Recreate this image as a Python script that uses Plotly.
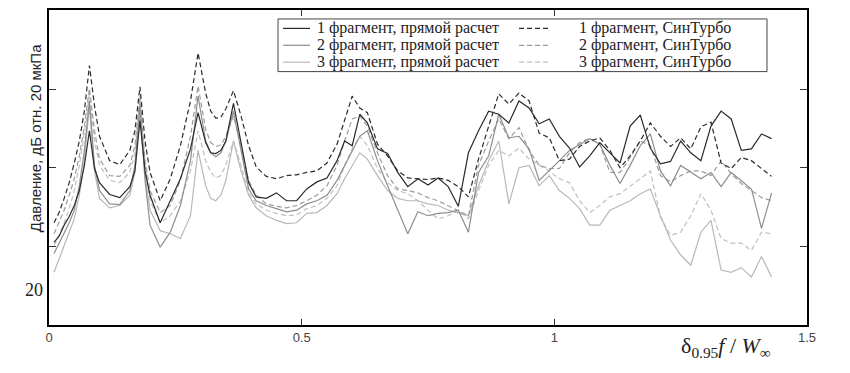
import plotly.graph_objects as go

# Non-dimensional frequency (delta_0.95 * f / W_inf)
freq = [0.01, 0.02, 0.03, 0.04, 0.05, 0.06, 0.07, 0.08, 0.09, 0.10,
        0.12, 0.14, 0.16, 0.17, 0.18, 0.19, 0.20, 0.22, 0.24, 0.26,
        0.28, 0.295, 0.31, 0.32, 0.33, 0.34, 0.35, 0.365, 0.38, 0.395,
        0.41, 0.43, 0.45, 0.47, 0.49, 0.51, 0.53, 0.55, 0.57, 0.585,
        0.60, 0.615, 0.63, 0.65, 0.67, 0.69, 0.71, 0.73, 0.75, 0.77,
        0.79, 0.81, 0.83, 0.85, 0.87, 0.89, 0.91, 0.93, 0.95, 0.97,
        0.99, 1.01, 1.03, 1.05, 1.07, 1.09, 1.11, 1.13, 1.15, 1.17,
        1.19, 1.21, 1.23, 1.25, 1.27, 1.29, 1.31, 1.33, 1.35, 1.37,
        1.39, 1.41, 1.43]

# Pressure level, dB re 20 uPa
frag1_direct = [30.5, 31.3, 32.7, 33.8, 35.2, 37.1, 40.3, 44.7, 39.9, 38.1,
                36.6, 36.2, 37.6, 39.6, 46.0, 39.6, 36.5, 33.0, 35.8, 38.6,
                42.4, 47.0, 43.2, 41.9, 41.8, 42.2, 43.4, 48.2, 43.2, 38.1,
                36.3, 36.1, 36.8, 35.8, 35.8, 37.3, 38.2, 38.7, 40.9, 43.4,
                42.8, 46.8, 45.7, 42.4, 41.8, 39.4, 37.6, 38.6, 37.8, 38.7,
                37.6, 35.1, 41.9, 44.7, 47.2, 46.8, 45.7, 48.5, 47.6, 45.6,
                46.2, 44.0, 42.5, 40.1, 41.5, 43.2, 41.9, 40.6, 45.3, 46.7,
                42.5, 40.5, 40.8, 43.4, 41.9, 40.9, 45.3, 47.2, 46.2, 42.2,
                42.4, 44.3, 43.7]
frag2_direct = [29.1, 30.4, 31.8, 33.0, 34.6, 37.7, 42.2, 48.5, 40.3, 37.1,
                35.4, 35.3, 37.1, 40.3, 47.9, 38.4, 32.7, 29.9, 31.8, 35.2,
                40.9, 49.1, 43.4, 41.9, 41.4, 41.9, 43.4, 47.2, 42.2, 37.3,
                35.8, 35.2, 34.8, 34.4, 34.6, 35.4, 35.8, 36.5, 38.4, 40.3,
                42.2, 44.0, 44.7, 40.9, 37.7, 34.6, 31.6, 34.4, 33.9, 34.2,
                34.3, 34.6, 31.8, 39.4, 41.5, 46.8, 43.8, 44.0, 42.4, 38.4,
                39.6, 40.9, 42.2, 43.0, 43.7, 43.0, 40.3, 38.0, 40.3, 42.8,
                44.3, 39.6, 37.7, 40.3, 39.4, 38.6, 39.4, 37.6, 39.4, 38.4,
                37.3, 32.3, 36.8]
frag3_direct = [26.7, 28.5, 30.1, 31.8, 33.5, 36.5, 40.9, 47.9, 39.6, 36.1,
                34.9, 35.2, 36.5, 39.4, 47.2, 39.0, 34.6, 32.0, 31.6, 31.0,
                33.9, 42.2, 37.7, 36.1, 35.8, 36.5, 38.4, 43.4, 39.6, 36.5,
                34.9, 33.9, 33.3, 32.9, 33.0, 34.2, 34.3, 35.2, 36.7, 38.6,
                40.3, 41.9, 41.1, 39.0, 37.1, 36.1, 35.8, 35.8, 35.4, 35.2,
                34.6, 34.2, 33.9, 37.7, 40.9, 43.4, 35.4, 40.0, 40.3, 37.7,
                39.0, 37.1, 36.1, 34.8, 32.7, 32.7, 34.6, 35.2, 35.8, 36.7,
                37.3, 33.9, 30.8, 28.9, 27.6, 31.8, 33.3, 27.0, 26.7, 27.3,
                26.1, 28.7, 26.1]
frag1_synth = [33.0, 34.3, 36.1, 38.1, 40.6, 43.4, 47.2, 53.0, 47.9, 44.0,
               40.9, 40.4, 42.2, 44.7, 50.3, 43.4, 39.4, 35.8, 38.6, 42.8,
               48.5, 54.6, 49.5, 47.2, 46.3, 46.4, 47.5, 49.8, 46.6, 42.8,
               40.1, 38.9, 38.6, 39.0, 39.1, 39.4, 39.6, 40.6, 43.0, 46.2,
               49.1, 47.6, 47.0, 43.0, 41.5, 39.6, 38.7, 38.6, 38.5, 38.7,
               38.4, 37.6, 36.3, 41.1, 45.3, 49.4, 48.1, 49.5, 48.5, 44.4,
               43.8, 40.9, 41.1, 42.7, 43.4, 43.8, 42.2, 40.0, 41.5, 43.4,
               45.7, 44.0, 42.7, 43.8, 42.4, 45.2, 45.8, 40.6, 39.9, 41.3,
               40.9, 39.9, 38.9]
frag2_synth = [31.6, 33.0, 34.6, 36.5, 38.6, 41.5, 45.3, 50.1, 44.7, 41.1,
               39.0, 38.9, 40.3, 42.8, 49.1, 40.9, 37.1, 34.3, 35.2, 38.4,
               44.0, 50.4, 44.9, 43.2, 42.7, 42.9, 44.0, 46.6, 42.8, 38.4,
               36.5, 35.4, 35.1, 34.9, 35.2, 35.8, 36.5, 37.7, 40.3, 43.4,
               46.2, 46.6, 45.3, 41.9, 39.0, 37.3, 37.1, 36.8, 36.2, 35.8,
               35.2, 34.6, 33.9, 40.3, 43.4, 46.2, 43.7, 45.1, 42.2, 40.3,
               39.9, 39.9, 41.9, 43.2, 43.7, 43.0, 39.4, 39.4, 41.3, 43.4,
               42.8, 39.0, 38.2, 39.0, 39.6, 39.6, 39.0, 40.9, 39.2, 38.0,
               37.1, 36.2, 35.8]
frag3_synth = [30.1, 31.4, 33.0, 34.8, 37.1, 40.3, 44.4, 49.4, 43.4, 40.3,
               38.4, 38.1, 39.4, 41.9, 48.5, 40.3, 35.8, 33.0, 33.9, 35.8,
               39.6, 44.7, 40.9, 39.4, 38.7, 39.0, 40.3, 43.4, 40.3, 36.8,
               35.4, 34.6, 34.2, 33.9, 34.0, 34.8, 35.2, 36.1, 37.7, 40.3,
               42.4, 44.0, 42.8, 39.9, 38.1, 37.1, 36.7, 35.8, 34.6, 33.5,
               33.9, 34.6, 33.5, 37.1, 40.3, 42.2, 41.5, 42.5, 41.1, 40.3,
               39.6, 38.6, 38.1, 35.8, 34.3, 35.2, 36.3, 36.7, 37.6, 38.6,
               39.6, 33.7, 31.4, 31.8, 33.9, 36.7, 34.6, 31.0, 30.4, 30.4,
               29.5, 31.8, 31.6]

x_tick_vals = [0, 0.5, 1, 1.5]
x_tick_text = ["0", "0.5", "1", "1.5"]
y_tick_vals = [30, 40, 50]

names_direct = ["1 фрагмент, прямой расчет", "2 фрагмент, прямой расчет", "3 фрагмент, прямой расчет"]
names_synth = ["1 фрагмент, СинТурбо", "2 фрагмент, СинТурбо", "3 фрагмент, СинТурбо"]

direct_series = [frag1_direct, frag2_direct, frag3_direct]
synth_series = [frag1_synth, frag2_synth, frag3_synth]
direct_colors = ["#2b2b2b", "#8e8e8e", "#b8b8b8"]
synth_colors = ["#2b2b2b", "#9c9c9c", "#c0c0c0"]
DASH = "5px,3px"

fig = go.Figure()
# draw lighter curves first so dark ones sit on top
for i in [2, 1, 0]:
    fig.add_trace(go.Scatter(x=freq, y=synth_series[i], mode="lines", name=names_synth[i],
                             line=dict(color=synth_colors[i], width=1.2, dash=DASH)))
    fig.add_trace(go.Scatter(x=freq, y=direct_series[i], mode="lines", name=names_direct[i],
                             line=dict(color=direct_colors[i], width=1.2)))

L, R, T, B = 49, 43, 8, 48
W, H = 850, 373
pw, ph = W - L - R, H - T - B


def px2paper_x(px):
    return (px - L) / pw


def px2paper_y(py):
    return (H - B - py) / ph


shapes = []
annotations = []

# manual legend box
shapes.append(dict(type="rect", xref="paper", yref="paper",
                   x0=px2paper_x(278), x1=px2paper_x(767),
                   y0=px2paper_y(70), y1=px2paper_y(17),
                   line=dict(color="#444", width=1), fillcolor="white", layer="above"))
row_y = [26.5, 43.5, 60.5]
serif = "Liberation Serif, Times New Roman, serif"
for i in range(3):
    yy = px2paper_y(row_y[i])
    shapes.append(dict(type="line", xref="paper", yref="paper",
                       x0=px2paper_x(283), x1=px2paper_x(310), y0=yy, y1=yy,
                       line=dict(color=direct_colors[i], width=1.2), layer="above"))
    shapes.append(dict(type="line", xref="paper", yref="paper",
                       x0=px2paper_x(519), x1=px2paper_x(548), y0=yy, y1=yy,
                       line=dict(color=synth_colors[i], width=1.2, dash=DASH), layer="above"))
    annotations.append(dict(text=names_direct[i], xref="paper", yref="paper",
                            x=px2paper_x(315), y=yy, xanchor="left", yanchor="middle",
                            showarrow=False, font=dict(family=serif, size=16, color="#222")))
    annotations.append(dict(text=names_synth[i], xref="paper", yref="paper",
                            x=px2paper_x(577), y=yy, xanchor="left", yanchor="middle",
                            showarrow=False, font=dict(family=serif, size=16, color="#222")))

# y-axis title
annotations.append(dict(text="Давление, дБ отн. 20 мкПа", xref="paper", yref="paper",
                        x=px2paper_x(35), y=px2paper_y(137), textangle=-90,
                        xanchor="center", yanchor="middle", showarrow=False,
                        font=dict(family="Liberation Sans, Arial, sans-serif", size=15, color="#222")))
# stray "20" label
annotations.append(dict(text="20", xref="paper", yref="paper",
                        x=px2paper_x(34), y=px2paper_y(290), xanchor="center", yanchor="middle",
                        showarrow=False, font=dict(family=serif, size=18, color="#222")))
# x-axis title
annotations.append(dict(text="δ<sub>0.95</sub><i>f</i> / <i>W</i><sub>∞</sub>", xref="paper", yref="paper",
                        x=px2paper_x(726), y=px2paper_y(347), xanchor="center", yanchor="middle",
                        showarrow=False, font=dict(family=serif, size=22, color="#222")))

fig.update_layout(
    width=W, height=H,
    margin=dict(l=L, r=R, t=T, b=B),
    paper_bgcolor="white", plot_bgcolor="white",
    showlegend=False,
    shapes=shapes, annotations=annotations,
)
fig.update_xaxes(range=[0, 1.5], tickvals=x_tick_vals, ticktext=x_tick_text,
                 ticks="inside", ticklen=6, tickcolor="#333", showgrid=False, zeroline=False,
                 showline=True, linecolor="black", linewidth=1.5, mirror="ticks",
                 tickfont=dict(family="Liberation Sans, Arial, sans-serif", size=13, color="#444"))
fig.update_yaxes(range=[20, 60.06], tickvals=y_tick_vals, showticklabels=False,
                 ticks="inside", ticklen=7, tickcolor="#333", showgrid=False, zeroline=False,
                 showline=True, linecolor="black", linewidth=1.5, mirror="ticks")

fig.write_html("out.html", config={"displayModeBar": False},
               post_script="document.body.style.margin='0px';document.body.style.overflow='hidden';")
